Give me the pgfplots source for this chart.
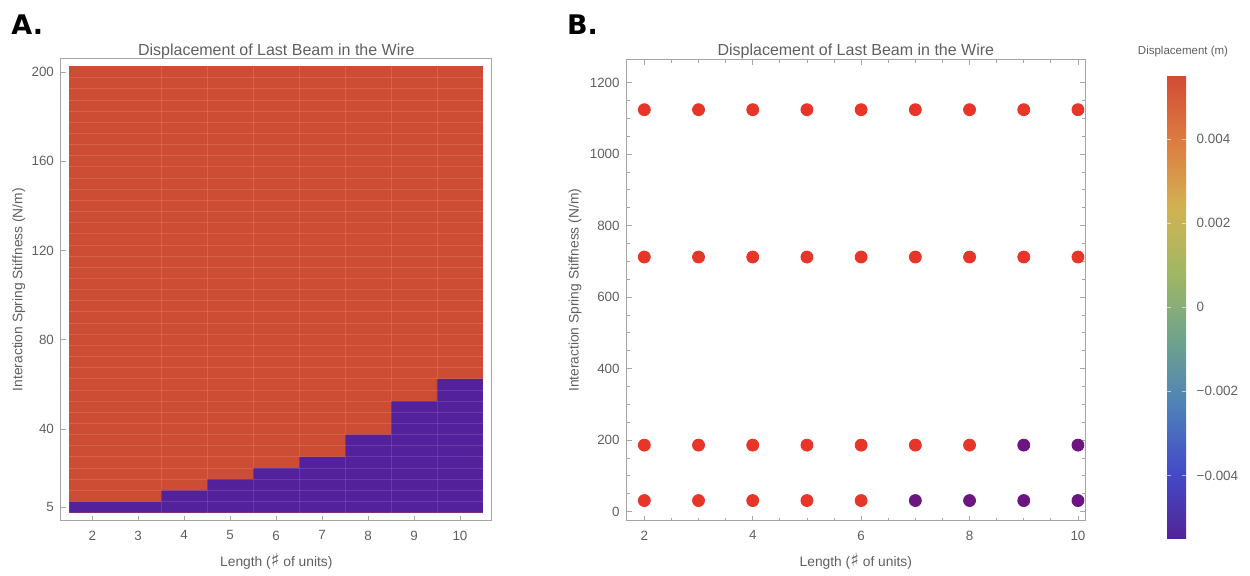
\documentclass[border=0pt]{standalone}
\usepackage{fontspec}
\setmainfont{Liberation Sans}
\newfontfamily\symfont{DejaVu Sans}
\usepackage{pgfplots}
\pgfplotsset{compat=1.18}

\definecolor{redL}{RGB}{205,77,52}
\definecolor{blueL}{RGB}{83,33,155}
\definecolor{dotred}{RGB}{232,53,42}
\definecolor{dotpur}{RGB}{107,22,128}
\definecolor{txt}{RGB}{95,95,95}
\definecolor{framec}{RGB}{165,165,165}

\pgfplotsset{
  colormap={rainbowM}{rgb255=(82,36,150) rgb255=(68,74,200) rgb255=(78,128,185) rgb255=(110,163,140) rgb255=(160,183,100) rgb255=(210,178,82) rgb255=(220,125,65) rgb255=(210,75,53)},
  common/.style={
    scale only axis, anchor=south west,
    axis line style={framec, line width=0.5pt},
    tick style={framec, line width=0.4pt},
    major tick length=2.5pt, minor tick length=1.5pt,
    tick label style={font=\fontsize{6.7}{8}\selectfont, text=txt},
    xticklabel style={yshift=-1.5pt},
    label style={font=\fontsize{6.9}{8}\selectfont, text=txt},
    title style={font=\fontsize{8}{9.6}\selectfont, text=txt, at={(0.5,1)}, anchor=base},
    /pgf/number format/assume math mode=true,
    /pgf/number format/1000 sep={},
    xlabel style={at={(axis description cs:0.5,0)}, anchor=base, yshift=-23pt},
  }
}
\newcommand{\sharpsym}{{\symfont\fontsize{9}{8}\selectfont ♯}}

\begin{document}
\begin{tikzpicture}
\path[use as bounding box] (0,0) rectangle (625pt,288pt);

% ---------- Panel A ----------
\begin{axis}[common, at={(30.5pt,27.65pt)}, width=215.35pt, height=231pt,
  xmin=1.32, xmax=10.69, ymin=-1.1, ymax=206,
  xtick={2,...,10}, ytick={5,40,80,120,160,200},
  minor xtick={3.5,4.5,...,9.5}, minor ytick={7.5,12.5,...,197.5},
  minor tick length=0pt,
  grid=minor, minor grid style={white, opacity=0.12, line width=0.4pt},
  tick pos=left, axis on top,
  title={Displacement of Last Beam in the Wire}, title style={yshift=-4.65pt},
  xlabel={Length (\sharpsym\ of units)},
  ylabel={Interaction Spring Stiffness (N/m)},
  ylabel style={at={(axis description cs:-0.098,0.5)}, anchor=center}]
\addplot[fill=redL, draw=none] coordinates {(1.5,2.5) (10.5,2.5) (10.5,202.5) (1.5,202.5)} -- cycle;
\addplot[fill=blueL, draw=none, const plot mark left] coordinates {(1.5,7.5) (2.5,7.5) (3.5,12.5) (4.5,17.5) (5.5,22.5) (6.5,27.5) (7.5,37.5) (8.5,52.5) (9.5,62.5) (10.5,62.5)} -- (axis cs:10.5,2.5) -- (axis cs:1.5,2.5) -- cycle;
\end{axis}

% ---------- Panel B ----------
\begin{axis}[common, at={(313.35pt,27.65pt)}, width=229.15pt, height=230.35pt,
  xmin=1.675, xmax=10.13, ymin=-25.3, ymax=1263,
  xtick={2,4,...,10}, minor x tick num=3,
  ytick={0,200,...,1200}, minor y tick num=3,
  title={Displacement of Last Beam in the Wire}, title style={yshift=-3.8pt},
  xlabel={Length (\sharpsym\ of units)},
  ylabel={Interaction Spring Stiffness (N/m)},
  ylabel style={at={(axis description cs:-0.1128,0.5)}, anchor=center},
  colormap name=rainbowM, point meta min=-0.0055, point meta max=0.0055,
  colorbar, colorbar/width=9.5pt,
  colorbar style={at={(parent axis.north east)}, anchor=north west,
    xshift=32.5pt, yshift=-7.85pt, scale only axis, width=9.5pt, height=231.5pt,
    scaled y ticks=false,
    ytick={-0.004,-0.002,0,0.002,0.004},
    yticklabels={−0.004,−0.002,0,0.002,0.004},
    axis line style={draw=none},
    ytick style={white, opacity=0.6, line width=0.3pt},
    major tick length=2pt,
    yticklabel style={font=\fontsize{6.7}{8}\selectfont, text=txt, xshift=1.8pt}}]
\addplot[only marks, mark=*, mark size=3pt, color=dotred] coordinates {
(2,1124) (3,1124) (4,1124) (5,1124) (6,1124) (7,1124) (8,1124) (9,1124) (10,1124)
(2,712) (3,712) (4,712) (5,712) (6,712) (7,712) (8,712) (9,712) (10,712)
(2,186) (3,186) (4,186) (5,186) (6,186) (7,186) (8,186)
(2,31) (3,31) (4,31) (5,31) (6,31)};
\addplot[only marks, mark=*, mark size=3pt, color=dotpur] coordinates {
(9,186) (10,186) (7,31) (8,31) (9,31) (10,31)};
\end{axis}

\node[anchor=base west, inner sep=0, font=\symfont\fontsize{13.5}{16}\selectfont\bfseries] at (5.5pt,270.5pt) {A.};
\node[anchor=base west, inner sep=0, font=\symfont\fontsize{13.5}{16}\selectfont\bfseries] at (283.3pt,270.5pt) {B.};
\node[anchor=base, inner sep=0, font=\fontsize{5.75}{7}\selectfont, text=txt] at (591.5pt,260.5pt) {Displacement (m)};
\end{tikzpicture}
\end{document}
